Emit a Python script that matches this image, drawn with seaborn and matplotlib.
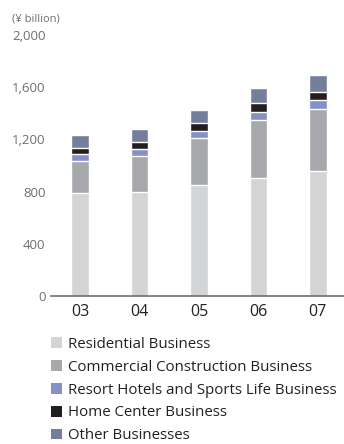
import matplotlib
matplotlib.use("Agg")
import matplotlib.pyplot as plt
import seaborn as sns
import pandas as pd
import numpy as np
from matplotlib.patches import Patch

years = ["03", "04", "05", "06", "07"]
segments = [
    "Residential Business",
    "Commercial Construction Business",
    "Resort Hotels and Sports Life Business",
    "Home Center Business",
    "Other Businesses",
]
residential = [790, 800, 850, 905, 960]
commercial = [247, 273, 360, 445, 475]
resort = [51, 53, 53, 60, 70]
home_center = [48, 56, 64, 70, 60]
other = [98, 98, 97, 115, 125]
colors = ["#d3d4d6", "#a7a8ab", "#8490c8", "#231f20", "#737f9b"]
y_ticks = [0, 400, 800, 1200, 1600, 2000]

sns.set_theme(style="white")
plt.rcParams["font.family"] = ["Open Sans", "DejaVu Sans"]

series = [residential, commercial, resort, home_center, other]
df = pd.DataFrame({seg: vals for seg, vals in zip(segments, series)}, index=years)
cum = df.cumsum(axis=1)

fig = plt.figure(figsize=(3.44, 4.44), dpi=100)
ax = fig.add_axes([51 / 344, 148 / 444, 293 / 344, 261 / 444])

# stacked bars: draw cumulative totals from the top segment down
for seg, col in reversed(list(zip(segments, colors))):
    sns.barplot(x=years, y=cum[seg].values, color=col, width=0.3,
                saturation=1, ax=ax, zorder=2)

ax.set_ylim(0, 2000)
ax.set_xlim(-0.49, 4.44)
ax.set_yticks(y_ticks)
ax.set_yticklabels([f"{v:,}" for v in y_ticks])
ax.set_xlabel("")
ax.set_ylabel("")
for s in ["left", "right", "top"]:
    ax.spines[s].set_visible(False)
ax.spines["bottom"].set_color("#6d6e70")
ax.spines["bottom"].set_linewidth(1.2)
ax.spines["bottom"].set_zorder(3)
ax.tick_params(axis="y", length=0, pad=4, labelsize=9.5, labelcolor="#6d6e70")
ax.tick_params(axis="x", length=0, pad=6, labelsize=11.5, labelcolor="#231f20")

fig.text(12 / 344, 1 - 19 / 444, "(¥ billion)", fontsize=8, color="#6d6e70",
         va="center", ha="left")

handles = [Patch(facecolor=c, edgecolor="none") for c in colors]
fig.legend(handles, segments, loc="upper left",
           bbox_to_anchor=(51 / 344, 1 - 337 / 444), frameon=False,
           fontsize=10.8, handlelength=0.73, handleheight=0.73, handletextpad=0.38,
           labelspacing=0.52, borderpad=0, borderaxespad=0,
           labelcolor="#231f20")

fig.savefig("out.png", dpi=100)
